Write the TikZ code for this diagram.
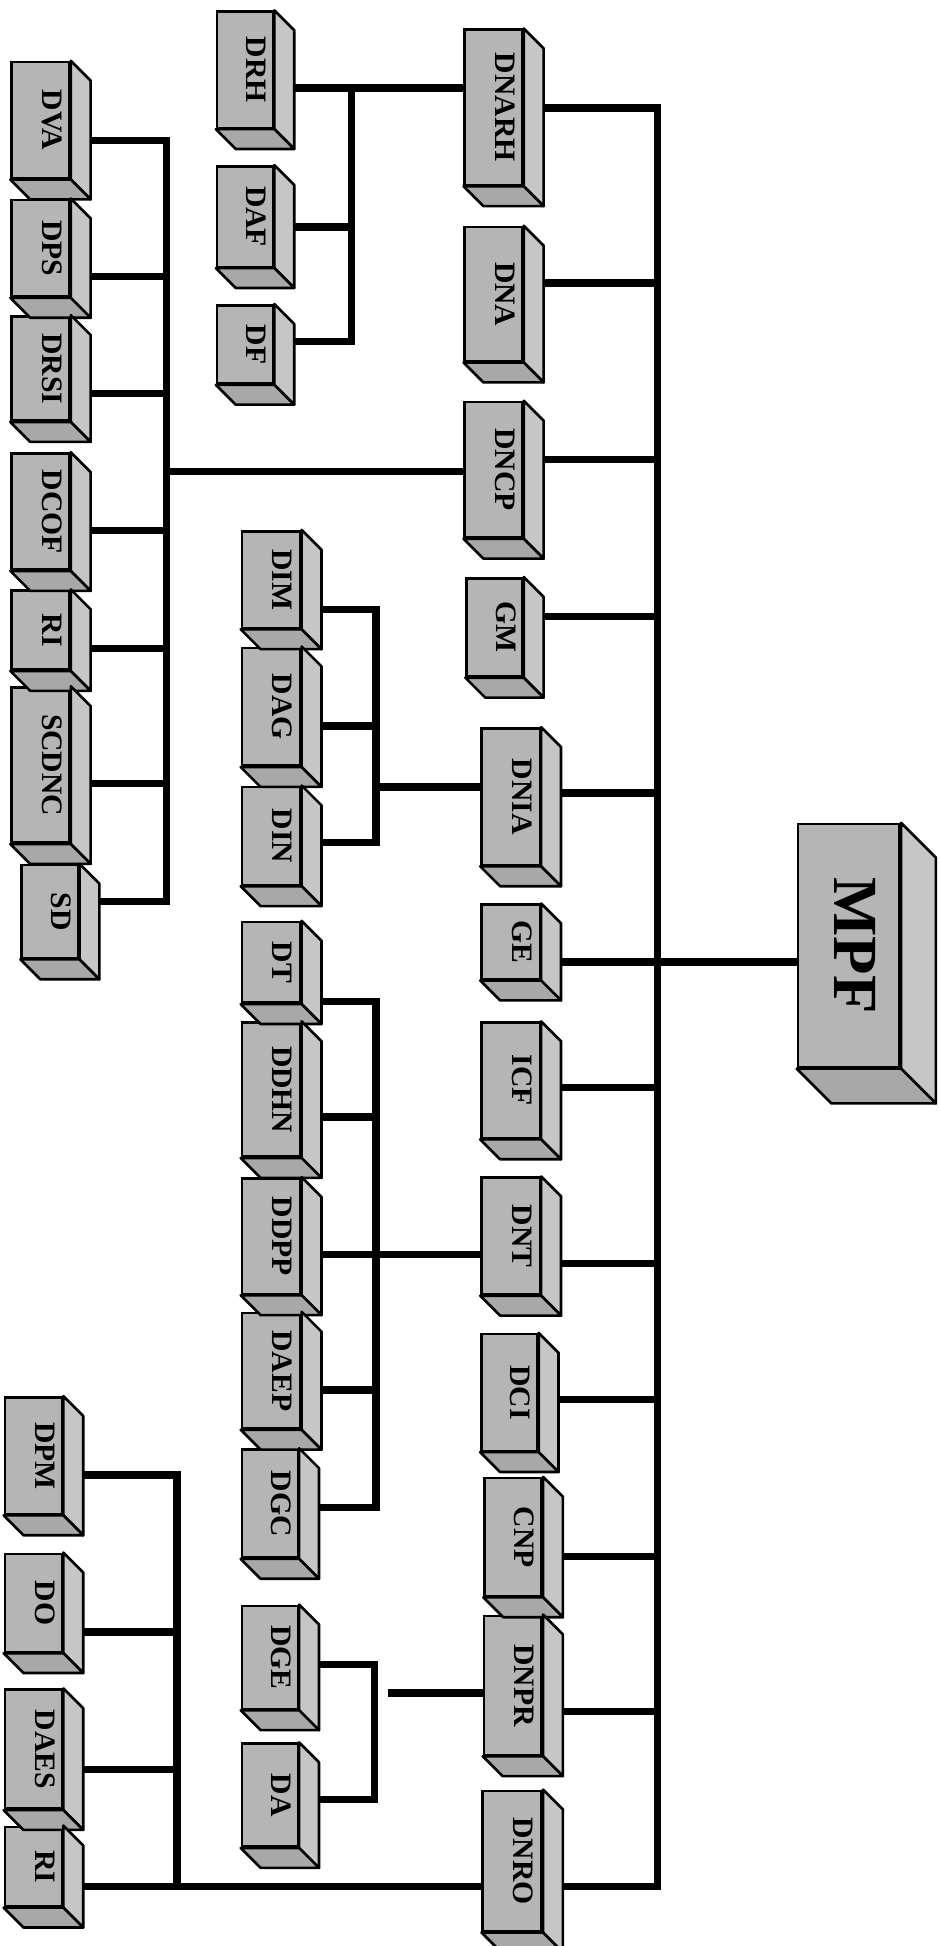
\documentclass[tikz,border=0pt]{standalone}
\usepackage{fontspec}
\setmainfont{Liberation Serif}
\usetikzlibrary{fit, calc, backgrounds}

\newcommand{\lbl}[2][13pt]{\rotatebox{-90}{#2\rule[-#1]{0pt}{#1}}}

\begin{document}
\begin{tikzpicture}[x=0.025cm, y=-0.025cm,
    blk/.style={draw, line width=1.5pt, fill=gray!58, inner sep=0pt,
                font=\bfseries\fontsize{17}{17}\selectfont},
    face/.style={draw, line width=1.5pt, line join=round},
    wire/.style={line width=4.2pt}]
  \useasboundingbox (0,0) rectangle (757,1568);

  % head
  \node[blk, font=\bfseries\fontsize{36}{36}\selectfont,
        fit={(643,664) (725,860)}] (mpf) {\lbl[7.6pt]{MPF}};

  % first level
  \node[blk, fit={(374.5,24) (421,149)}]    (dnarh) {\lbl{DNARH}};
  \node[blk, fit={(374.5,183) (421,291)}]   (dna)   {\lbl{DNA}};
  \node[blk, fit={(374.5,324) (421,433)}]   (dncp)  {\lbl{DNCP}};
  \node[blk, fit={(376,466) (421,545)}]     (gm)    {\lbl{GM}};
  \node[blk, fit={(388,587) (435,697)}]     (dnia)  {\lbl{DNIA}};
  \node[blk, fit={(388,729) (435,789)}]     (ge)    {\lbl{GE}};
  \node[blk, fit={(388,824) (435,917)}]     (icf)   {\lbl{ICF}};
  \node[blk, fit={(388,949) (435,1043)}]    (dnt)   {\lbl{DNT}};
  \node[blk, fit={(388,1075) (433,1169)}]   (dci)   {\lbl{DCI}};
  \node[blk, fit={(390.5,1191) (436.5,1286)}] (cnp) {\lbl{CNP}};
  \node[blk, fit={(390,1302) (436.5,1414)}] (dnpr)  {\lbl{DNPR}};
  \node[blk, fit={(389,1443) (436.5,1556)}] (dnro)  {\lbl{DNRO}};

  % second level, middle
  \node[blk, fit={(175,9.4) (220,103)}]   (drh)  {\lbl{DRH}};
  \node[blk, fit={(175,134) (220,215)}]   (daf)  {\lbl{DAF}};
  \node[blk, fit={(175,246) (220,309)}]   (df)   {\lbl{DF}};
  \node[blk, fit={(195,428) (242,506)}]   (dim)  {\lbl{DIM}};
  \node[blk, fit={(195,522) (242,617)}]   (dag)  {\lbl{DAG}};
  \node[blk, fit={(195,634) (242,713)}]   (din)  {\lbl{DIN}};
  \node[blk, fit={(195,743) (242,808)}]   (dt)   {\lbl{DT}};
  \node[blk, fit={(195,824) (242,932)}]   (ddhn) {\lbl{DDHN}};
  \node[blk, fit={(195,949.5) (242,1042.6)}] (ddpp) {\lbl{DDPP}};
  \node[blk, fit={(195,1058) (242,1151)}] (daep) {\lbl{DAEP}};
  \node[blk, fit={(195,1168) (240,1255)}] (dgc)  {\lbl{DGC}};
  \node[blk, fit={(195,1294) (240,1377)}] (dge)  {\lbl{DGE}};
  \node[blk, fit={(195,1405) (240,1488)}] (da)   {\lbl{DA}};

  % second level, left
  \node[blk, fit={(9.4,50) (56,143.6)}]  (dva)   {\lbl{DVA}};
  \node[blk, fit={(9.4,161) (56,239)}]   (dps)   {\lbl{DPS}};
  \node[blk, fit={(9.4,255) (56,339)}]   (drsi)  {\lbl{DRSI}};
  \node[blk, fit={(9.4,365.5) (56,459)}] (dcof)  {\lbl{DCOF}};
  \node[blk, fit={(9.4,476) (56,539.6)}] (ri)    {\lbl{RI}};
  \node[blk, fit={(9.4,554) (56,679)}]   (scdnc) {\lbl{SCDNC}};
  \node[blk, fit={(17.5,697) (63,772)}]  (sd)    {\lbl{SD}};
  \node[blk, fit={(4,1126) (50,1220)}]   (dpm)   {\lbl{DPM}};
  \node[blk, fit={(4,1252) (50,1331)}]   (do)    {\lbl{DO}};
  \node[blk, fit={(4,1361.5) (50,1457.4)}] (daes) {\lbl{DAES}};
  \node[blk, fit={(4,1472) (50,1536)}]   (ri2)   {\lbl{RI}};

  % block sides
  \foreach \n/\d in {mpf/28, dnarh/16, dna/16, dncp/16, gm/16, dnia/16, ge/16,
      icf/16, dnt/16, dci/16, cnp/16, dnpr/16, dnro/16, drh/16, daf/16, df/16,
      dim/16, dag/16, din/16, dt/16, ddhn/16, ddpp/16, daep/16, dgc/16, dge/16,
      da/16, dva/16, dps/16, drsi/16, dcof/16, ri/16, scdnc/16, sd/16, dpm/16,
      do/16, daes/16, ri2/16}{
    \filldraw[face, fill=gray!45] (\n.north east) -- ++(\d,\d)
      -- ($(\n.south east)+(\d,\d)$) -- (\n.south east) -- cycle;
    \filldraw[face, fill=gray!68] (\n.south west) -- (\n.south east)
      -- ($(\n.south east)+(\d,\d)$) -- ($(\n.south west)+(\d,\d)$) -- cycle;
  }

  \begin{scope}[on background layer]
    % main bus
    \coordinate (busT) at (530,87);
    \coordinate (busB) at (530,1520);
    \draw[wire] (dnarh |- busT) -- (busT) -- (busB) -- (dnro |- busB);
    \foreach \n/\y in {dna/228, dncp/370, gm/497, dnia/639, ge/775, icf/876,
        dnt/1018, dci/1127.5, cnp/1254, dnpr/1379}
      \draw[wire] (\n |- 0,\y) -- (530,\y);
    \draw[wire] (530,775) -- (mpf |- 0,775);
    % DRH group
    \draw[wire] (drh |- 0,71) -- (dnarh |- 0,71);
    \draw[wire] (283,71) |- (df |- 0,275);
    \draw[wire] (daf |- 0,183) -- (283,183);
    % DVA group
    \draw[wire] (dva |- 0,113) -| (134,726.5) -- (sd |- 0,726.5);
    \foreach \n/\y in {dps/223, drsi/317, dcof/427.5, ri/522.5, scdnc/631.5}
      \draw[wire] (\n |- 0,\y) -- (134,\y);
    \draw[wire] (134,380) -- (dncp |- 0,380);
    % DIM group
    \draw[wire] (dim |- 0,491) -| (303,679) -- (din |- 0,679);
    \draw[wire] (dag |- 0,585) -- (303,585);
    \draw[wire] (303,634) -- (dnia |- 0,634);
    % DT group
    \draw[wire] (dt |- 0,807) -| (303,1214.5) -- (dgc |- 0,1214.5);
    \foreach \n/\y in {ddhn/900, daep/1120}
      \draw[wire] (\n |- 0,\y) -- (303,\y);
    \draw[wire] (ddpp |- 0,1011) -- (dnt |- 0,1011);
    % DGE group
    \draw[wire] (dge |- 0,1341) -| (302,1450) -- (da |- 0,1450);
    \draw[wire] (312.5,1364) -- (dnpr |- 0,1364);
    % DPM group
    \draw[wire] (dpm |- 0,1188.5) -| (142.5,1520);
    \draw[wire] (ri2 |- 0,1520) -- (dnro |- 0,1520);
    \foreach \n/\y in {do/1315, daes/1425.5}
      \draw[wire] (\n |- 0,\y) -- (142.5,\y);
  \end{scope}
\end{tikzpicture}
\end{document}
